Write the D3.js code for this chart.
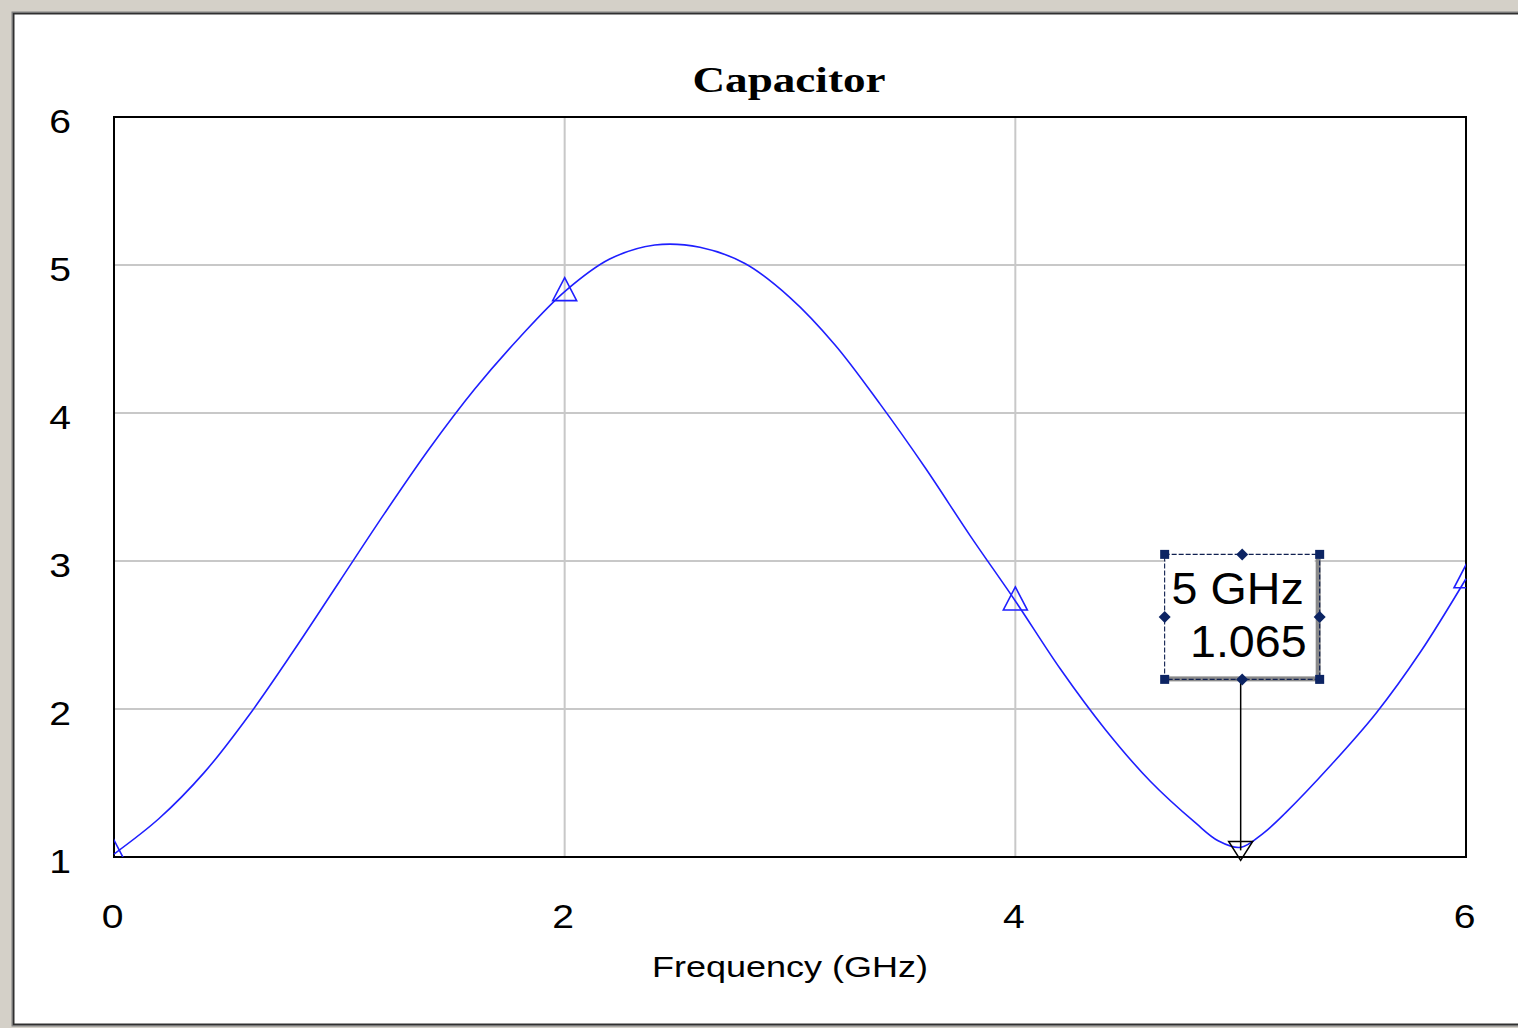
<!DOCTYPE html>
<html>
<head>
<meta charset="utf-8">
<script src="https://cdn.jsdelivr.net/npm/d3@7"></script>
<style>
  html, body { margin: 0; padding: 0; background: #d4d0c8; }
  svg { display: block; }
</style>
</head>
<body>
<script>
// Capacitor response vs frequency
const freqGHz = [0.0, 0.2, 0.4, 0.6, 0.8, 1.0, 1.2, 1.4, 1.6, 1.8, 2.0, 2.2, 2.4, 2.6, 2.8,
                 3.0, 3.2, 3.4, 3.6, 3.8, 4.0, 4.2, 4.4, 4.6, 4.8, 4.9, 5.0, 5.1, 5.2, 5.4,
                 5.6, 5.8, 6.0];
const response = [1.02, 1.26, 1.57, 1.96, 2.40, 2.86, 3.32, 3.76, 4.16, 4.51, 4.82, 5.04, 5.135, 5.12, 5.01,
                  4.78, 4.46, 4.06, 3.63, 3.17, 2.73, 2.27, 1.86, 1.51, 1.23, 1.11, 1.065, 1.16, 1.30, 1.62,
                  1.97, 2.39, 2.88];
// Trace symbols are drawn at these frequencies
const symbolFreqs = [0, 2, 4, 6];
const xTicks = [0, 2, 4, 6];
const yTicks = [1, 2, 3, 4, 5, 6];
// Readout marker
const markerFreq = 5;
const markerValue = 1.065;
const markerLines = ["5 GHz", "1.065"];
const titleText = "Capacitor";
const xAxisTitle = "Frequency (GHz)";

const W = 1518, H = 1028;
const plot = { left: 114, top: 117, right: 1466, bottom: 857 };

const svg = d3.select("body").append("svg").attr("width", W).attr("height", H);

// window background and sunken frame
svg.append("rect").attr("width", W).attr("height", H).attr("fill", "#d4d0c8");
svg.append("rect").attr("x", 12).attr("y", 12).attr("width", W + 20).attr("height", 1014)
  .attr("fill", "#ffffff").attr("stroke", "#808080").attr("stroke-width", 1);
svg.append("rect").attr("x", 13.5).attr("y", 13.5).attr("width", W + 20).attr("height", 1011)
  .attr("fill", "none").attr("stroke", "#303030").attr("stroke-width", 2);

const x = d3.scaleLinear().domain([0, 6]).range([plot.left, plot.right]);
const y = d3.scaleLinear().domain([1, 6]).range([plot.bottom, plot.top]);

// horizontally stretched text
function stext(g, str, px, py, opts) {
  return g.append("text")
    .attr("transform", `translate(${px},${py}) scale(${opts.sx || 1},1)`)
    .attr("font-family", opts.family || "'Liberation Sans', Arial, sans-serif")
    .attr("font-size", opts.size)
    .attr("font-weight", opts.weight || "normal")
    .attr("text-anchor", opts.anchor || "middle")
    .attr("fill", opts.fill || "#000")
    .text(str);
}

// gridlines
const grid = svg.append("g");
grid.selectAll("line.gx").data(xTicks.slice(1, -1)).join("line")
  .attr("x1", d => x(d)).attr("x2", d => x(d))
  .attr("y1", plot.top).attr("y2", plot.bottom)
  .attr("stroke", "#c8c8c8").attr("stroke-width", 2);
grid.selectAll("line.gy").data(yTicks.slice(1, -1)).join("line")
  .attr("x1", plot.left).attr("x2", plot.right)
  .attr("y1", d => y(d)).attr("y2", d => y(d))
  .attr("stroke", "#c8c8c8").attr("stroke-width", 2);

// plot border
svg.append("rect").attr("x", plot.left).attr("y", plot.top)
  .attr("width", plot.right - plot.left).attr("height", plot.bottom - plot.top)
  .attr("fill", "none").attr("stroke", "#000").attr("stroke-width", 2);

// tick labels via d3 axes (no tick marks or domain line)
const xAxis = d3.axisBottom(x).tickValues(xTicks).tickSize(0).tickFormat(d3.format("d"));
const gx = svg.append("g").attr("transform", `translate(-2,${plot.bottom})`).call(xAxis);
gx.select(".domain").remove();
gx.selectAll("text")
  .attr("font-family", "'Liberation Sans', Arial, sans-serif")
  .attr("font-size", 34).attr("fill", "#000").attr("dy", null).attr("y", 0)
  .attr("transform", "translate(0,71) scale(1.15,1)");

const yAxis = d3.axisLeft(y).tickValues(yTicks).tickSize(0).tickFormat(d3.format("d"));
const gy = svg.append("g").attr("transform", `translate(${plot.left},0)`).call(yAxis);
gy.select(".domain").remove();
gy.selectAll("text")
  .attr("font-family", "'Liberation Sans', Arial, sans-serif")
  .attr("font-size", 34).attr("fill", "#000").attr("dy", null).attr("x", 0)
  .attr("text-anchor", "end")
  .attr("transform", "translate(-43,15) scale(1.15,1)");

// titles
stext(svg, titleText, 789, 92, { size: 35, sx: 1.29, weight: "bold", family: "'Liberation Serif', 'Times New Roman', serif" });
stext(svg, xAxisTitle, 790, 977, { size: 30, sx: 1.2 });

// trace
const pts = freqGHz.map((f, i) => [f, response[i]]);
const line = d3.line().x(d => x(d[0])).y(d => y(d[1])).curve(d3.curveCatmullRom.alpha(0.5));
svg.append("path").datum(pts).attr("d", line)
  .attr("fill", "none").attr("stroke", "#1f1fff").attr("stroke-width", 1.6);

// trace symbols (open triangles), clipped to plot
svg.append("clipPath").attr("id", "plotclip").append("rect")
  .attr("x", plot.left).attr("y", plot.top - 30)
  .attr("width", plot.right - plot.left).attr("height", plot.bottom - plot.top + 30);
const valueAt = f => response[freqGHz.indexOf(f)];
svg.append("g").attr("clip-path", "url(#plotclip)")
  .selectAll("path").data(symbolFreqs).join("path")
  .attr("transform", d => `translate(${x(d)},${y(valueAt(d))})`)
  .attr("d", "M0,-14 L12,9 L-12,9 Z")
  .attr("fill", "none").attr("stroke", "#1f1fff").attr("stroke-width", 1.6);

// readout marker
const mx = x(markerFreq), my = y(markerValue);
const box = { left: mx - 76, right: mx + 79, top: my - 293, bottom: my - 168 };
const mk = svg.append("g");
mk.append("line").attr("x1", mx).attr("x2", mx).attr("y1", box.bottom).attr("y2", my + 3)
  .attr("stroke", "#000").attr("stroke-width", 1.5);
mk.append("path").attr("transform", `translate(${mx},${my})`)
  .attr("d", "M-12,-6 L12,-6 L0,13 Z")
  .attr("fill", "none").attr("stroke", "#000").attr("stroke-width", 1.5);

// box shadow
mk.append("rect").attr("x", box.left + 4).attr("y", box.bottom - 3).attr("width", box.right - box.left - 4).attr("height", 5)
  .attr("fill", "#8a8a8a");
mk.append("rect").attr("x", box.right - 4).attr("y", box.top + 4).attr("width", 5).attr("height", box.bottom - box.top)
  .attr("fill", "#8a8a8a");
mk.append("rect").attr("x", box.left).attr("y", box.top)
  .attr("width", box.right - box.left).attr("height", box.bottom - box.top)
  .attr("fill", "none")
  .attr("stroke", "#102050").attr("stroke-width", 1.2).attr("stroke-dasharray", "5,2");
mk.append("rect").attr("x", box.left + 1).attr("y", box.top + 1)
  .attr("width", box.right - box.left - 6).attr("height", box.bottom - box.top - 5)
  .attr("fill", "#ffffff");

stext(mk, markerLines[0], mx - 3, box.top + 50, { size: 44, sx: 1.06 });
stext(mk, markerLines[1], box.right - 13, box.top + 103, { size: 44, sx: 1.06, anchor: "end" });

// selection handles
const corners = [[box.left, box.top], [box.right, box.top], [box.left, box.bottom], [box.right, box.bottom]];
mk.selectAll("rect.h").data(corners).join("rect")
  .attr("x", d => d[0] - 4.5).attr("y", d => d[1] - 4.5).attr("width", 9).attr("height", 9)
  .attr("fill", "#0c2463");
const mids = [[mx + 1.5, box.top], [mx + 1.5, box.bottom], [box.left, (box.top + box.bottom) / 2], [box.right, (box.top + box.bottom) / 2]];
mk.selectAll("path.d").data(mids).join("path")
  .attr("transform", d => `translate(${d[0]},${d[1]})`)
  .attr("d", "M0,-6 L6,0 L0,6 L-6,0 Z")
  .attr("fill", "#0c2463");
</script>
</body>
</html>
